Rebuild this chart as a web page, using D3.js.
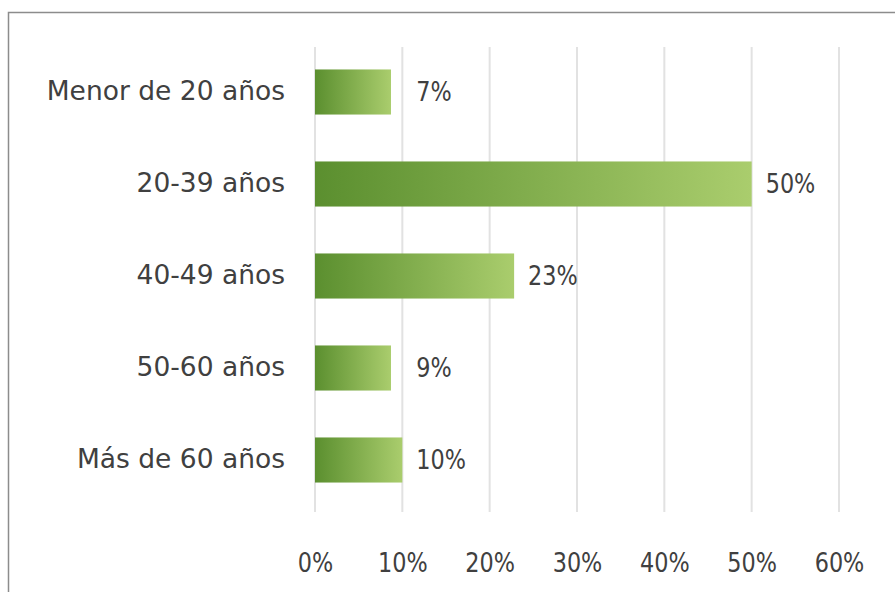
<!DOCTYPE html>
<html>
<head>
<meta charset="utf-8">
<script src="https://cdn.jsdelivr.net/npm/d3@7"></script>
<style>
  body { margin: 0; background: #fff; }
  svg { display: block; }
  text { font-family: "DejaVu Sans", sans-serif; fill: #404040; }
</style>
</head>
<body>
<svg id="mainSvg"></svg>
<script>
var WIDTH = 895;
var HEIGHT = 592;

var CATEGORIES = ["Menor de 20 años", "20-39 años", "40-49 años", "50-60 años", "Más de 60 años"];
// bar lengths as drawn in the picture (%), and the labels printed next to them
var VALUES = [8.7, 50, 22.8, 8.7, 10];
var LABELS = ["7%", "50%", "23%", "9%", "10%"];
var TICKS = [0, 10, 20, 30, 40, 50, 60];

var CAT_FONT = 26.5;
var NUM_FONT = 26;
var NUM_SQUEEZE = 0.86; // the numbers in the picture use a narrower face

function squeeze(sel, x, y) {
  sel.attr("transform", "translate(" + x + "," + y + ") scale(" + NUM_SQUEEZE + ",1)");
}

function render() {
  var svg = d3.select("#mainSvg")
    .attr("width", WIDTH)
    .attr("height", HEIGHT);

  // chart frame, the right and bottom edges fall outside the picture
  svg.append("rect")
    .attr("x", 8.5)
    .attr("y", 12.5)
    .attr("width", 900)
    .attr("height", 600)
    .attr("fill", "#fff")
    .attr("stroke", "#8c8c8c")
    .attr("stroke-width", 1.5);

  var x = d3.scaleLinear().domain([0, 60]).range([315, 839]);
  var y = d3.scaleBand().domain(CATEGORIES).range([46, 506]).paddingInner(0.51).paddingOuter(0.255);

  var grad = svg.append("defs").append("linearGradient")
    .attr("id", "barGrad")
    .attr("x1", "0%").attr("x2", "100%")
    .attr("y1", "0%").attr("y2", "0%");
  grad.append("stop").attr("offset", "0%").attr("stop-color", "#5b8f2f");
  grad.append("stop").attr("offset", "100%").attr("stop-color", "#aacd6d");

  // vertical gridlines
  svg.append("g")
    .selectAll("line")
    .data(TICKS)
    .enter()
    .append("line")
    .attr("x1", function (d) { return x(d); })
    .attr("x2", function (d) { return x(d); })
    .attr("y1", 47)
    .attr("y2", 512)
    .attr("stroke", "#e2e2e2")
    .attr("stroke-width", 2);

  // x axis tick labels
  var xAxis = d3.axisBottom(x)
    .tickValues(TICKS)
    .tickSize(0)
    .tickPadding(0)
    .tickFormat(function (d) { return d + "%"; });
  var gx = svg.append("g")
    .attr("transform", "translate(0,553)")
    .call(xAxis);
  gx.select(".domain").remove();
  gx.selectAll(".tick text")
    .attr("y", 0)
    .attr("dy", "0.72em")
    .attr("transform", "scale(" + NUM_SQUEEZE + ",1)")
    .style("font-family", "DejaVu Sans, sans-serif")
    .style("font-size", NUM_FONT + "px")
    .attr("fill", "#404040");

  // category labels
  var yAxis = d3.axisLeft(y).tickSize(0).tickPadding(0);
  var gy = svg.append("g")
    .attr("transform", "translate(285,0)")
    .call(yAxis);
  gy.select(".domain").remove();
  gy.selectAll("text")
    .style("font-family", "DejaVu Sans, sans-serif")
    .style("font-size", CAT_FONT + "px")
    .attr("fill", "#404040");

  // bars
  svg.append("g")
    .selectAll("rect")
    .data(VALUES)
    .enter()
    .append("rect")
    .attr("x", x(0))
    .attr("y", function (d, i) { return y(CATEGORIES[i]); })
    .attr("width", function (d) { return x(d) - x(0); })
    .attr("height", y.bandwidth())
    .attr("fill", "url(#barGrad)");

  // value labels
  svg.append("g")
    .selectAll("text")
    .data(VALUES)
    .enter()
    .append("text")
    .each(function (d, i) {
      squeeze(d3.select(this), Math.max(x(d), x(10)) + 14, y(CATEGORIES[i]) + y.bandwidth() / 2);
    })
    .attr("dy", "0.36em")
    .style("font-size", NUM_FONT + "px")
    .text(function (d, i) { return LABELS[i]; });
}

render();
</script>
</body>
</html>
